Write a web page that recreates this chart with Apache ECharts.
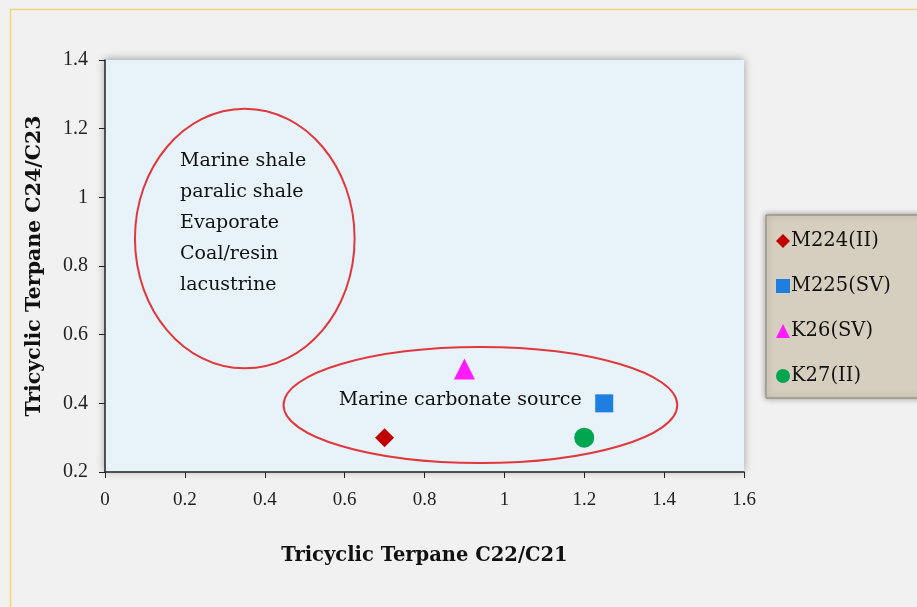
<!DOCTYPE html>
<html><head><meta charset="utf-8">
<script src="https://cdn.jsdelivr.net/npm/echarts@6/dist/echarts.min.js"></script>
<style>html,body{margin:0;padding:0;background:#fff}#c{width:917px;height:607px}</style>
</head><body><div id="c"></div>
<script>
const seriesNames = ['M224(II)', 'M225(SV)', 'K26(SV)', 'K27(II)'];
const xValues = [0.7, 1.25, 0.9, 1.2];
const yValues = [0.3, 0.4, 0.5, 0.3];
const symbols = ['diamond', 'rect', 'triangle', 'circle'];
const colors = ['#c00000', '#1f7fe0', '#ff1aff', '#00a550'];
const xTicks = [0, 0.2, 0.4, 0.6, 0.8, 1, 1.2, 1.4, 1.6];
const yTicks = [0.2, 0.4, 0.6, 0.8, 1, 1.2, 1.4];
// ellipses: [cx, cy, rx, ry] in data units
const ellipses = [[0.35, 0.88, 0.275, 0.378], [0.94, 0.395, 0.493, 0.169]];
const noteTexts = ['Marine shale\nparalic shale\nEvaporate\nCoal/resin\nlacustrine', 'Marine carbonate source'];
const notePos = [[0.188, 0.926], [0.585, 0.41]];

const chart = echarts.init(document.getElementById('c'));
const serif = '"Liberation Serif", "DejaVu Serif", serif';
const wide = '"DejaVu Serif", serif';
const sizes = [19, 18, 21, 20];
const series = seriesNames.map((n, i) => ({
  name: n, type: 'scatter', symbol: symbols[i],
  symbolSize: sizes[i],
  itemStyle: { color: colors[i], opacity: 1 },
  data: [[xValues[i], yValues[i]]], z: 5
}));
series.push({
  type: 'custom', silent: true, z: 3,
  data: ellipses,
  renderItem: (params, api) => {
    const c = api.coord([api.value(0), api.value(1)]);
    const e = api.coord([api.value(0) + api.value(2), api.value(1) + api.value(3)]);
    return { type: 'ellipse', shape: { cx: c[0], cy: c[1], rx: e[0] - c[0], ry: c[1] - e[1] },
      style: { fill: 'none', stroke: '#e0383c', lineWidth: 2 } };
  }
});
series.push({
  type: 'custom', silent: true, z: 4,
  data: notePos.map((p, i) => [p[0], p[1], i]),
  renderItem: (params, api) => {
    const c = api.coord([api.value(0), api.value(1)]);
    const idx = api.value(2);
    return { type: 'text', x: c[0], y: c[1],
      style: { text: noteTexts[idx], font: '19px ' + wide, fill: '#111',
        lineHeight: 31, verticalAlign: 'middle', align: 'left' } };
  }
});
chart.setOption({
  backgroundColor: '#f1f1f1',
  animation: false,
  graphic: [{ type: 'rect', left: 8, top: 7, shape: { width: 920, height: 600 },
    style: { fill: 'none', stroke: '#f2d37a', lineWidth: 1.5 }, z: -1 }],
  grid: { left: 105, right: 173, top: 60, bottom: 135, show: true,
    backgroundColor: '#e8f2f9', borderWidth: 0,
    shadowColor: 'rgba(0,0,0,0.35)', shadowBlur: 8, shadowOffsetY: -1 },
  xAxis: { type: 'value', min: 0, max: 1.6, interval: 0.2,
    name: 'Tricyclic Terpane C22/C21', nameLocation: 'middle', nameGap: 74,
    nameTextStyle: { fontFamily: wide, fontWeight: 'bold', fontSize: 19.5, color: '#111' },
    axisLine: { show: true, lineStyle: { color: '#222', width: 1.5 } },
    axisTick: { show: true, length: 6, lineStyle: { color: '#222' } },
    axisLabel: { fontFamily: serif, fontSize: 19, color: '#222', margin: 19,
      formatter: v => String(+v.toFixed(1)) },
    splitLine: { show: false } },
  yAxis: { type: 'value', min: 0.2, max: 1.4, interval: 0.2,
    name: 'Tricyclic Terpane C24/C23', nameLocation: 'middle', nameGap: 60,
    nameTextStyle: { fontFamily: wide, fontWeight: 'bold', fontSize: 20.5, color: '#111' },
    axisLine: { show: true, lineStyle: { color: '#222', width: 1.5 } },
    axisTick: { show: true, length: 6, lineStyle: { color: '#222' } },
    axisLabel: { fontFamily: serif, fontSize: 20, color: '#222', margin: 17,
      formatter: v => String(+v.toFixed(1)) },
    splitLine: { show: false } },
  legend: { orient: 'vertical', left: 766, top: 215,
    backgroundColor: '#d6cfc0', borderColor: '#8a8272', borderWidth: 1,
    padding: [16, 60, 12, 10], itemGap: 25, itemWidth: 14, itemHeight: 14,
    shadowColor: 'rgba(0,0,0,0.4)', shadowBlur: 6,
    textStyle: { fontFamily: wide, fontSize: 19.5, color: '#111', padding: [0, 0, 0, -4] },
    data: seriesNames },
  series: series
});
</script></body></html>
